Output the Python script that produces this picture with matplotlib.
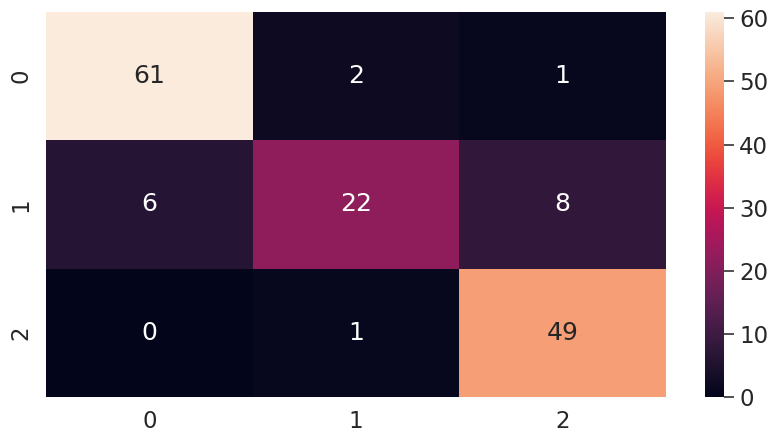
import numpy as np
import matplotlib
matplotlib.use("Agg")
import matplotlib.pyplot as plt
import seaborn as sns

# confusion matrix values
labels = ["0", "1", "2"]
matriz = [
    [61, 2, 1],
    [6, 22, 8],
    [0, 1, 49],
]

sns.set(font_scale=1.5)
plt.rcParams['font.family'] = ['DejaVu Sans']

fig = plt.figure(figsize=(7.76, 4.43), dpi=100)
ax = fig.add_axes([46 / 776, 46 / 443, 620 / 776, 385 / 443])
cax = fig.add_axes([705 / 776, 46 / 443, 19 / 776, 385 / 443])

sns.heatmap(np.array(matriz), annot=True, fmt="d", ax=ax, cbar_ax=cax,
            xticklabels=labels, yticklabels=labels)

# marcas solo en la barra de color
cax.tick_params(axis="y", length=7, width=1.2, color="#333333", pad=4)

fig.savefig("out.png", dpi=100)
